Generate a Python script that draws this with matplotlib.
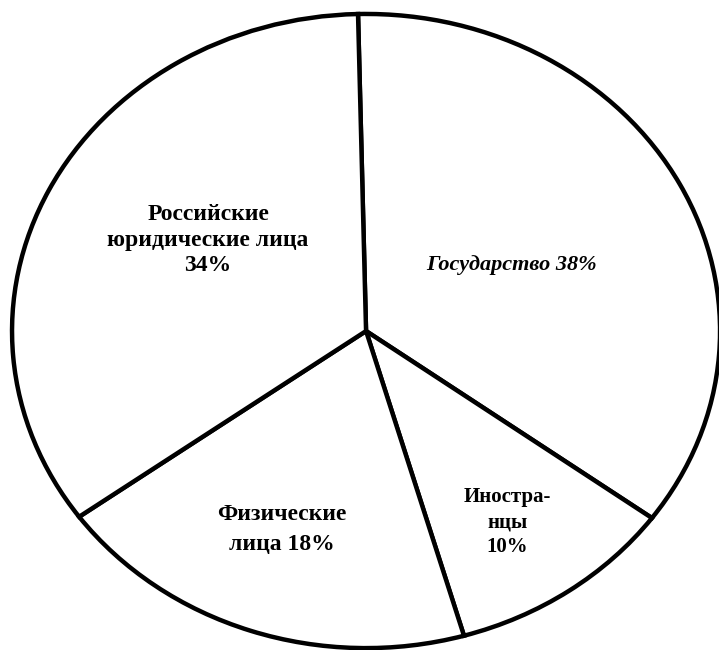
import matplotlib.pyplot as plt

# --- data ---
labels = ['Государство 38%', 'Иностра-\nнцы\n10%', 'Физические\nлица 18%',
          'Российские\nюридические лица\n34%']
# slice sizes as they are drawn (the drawing does not follow the labels exactly)
slice_sizes = [35.4, 10.5, 19.5, 34.6]
start_angle = 91.3

# label placement inside the slices (data coords, pie radius = 1)
label_xy = [(0.412, 0.208), (0.40, -0.603), (-0.239, -0.625), (-0.446, 0.287)]
label_size = [16, 15, 17, 17]
label_style = ['italic', 'normal', 'normal', 'normal']
label_spacing = [1.2, 1.34, 1.58, 1.31]

fig = plt.figure(figsize=(7.19, 6.5), dpi=100)
ax = fig.add_axes([0, 0, 1, 1])

ax.pie(slice_sizes, startangle=start_angle, counterclock=False,
       colors=['white'] * len(slice_sizes),
       wedgeprops=dict(edgecolor='black', linewidth=3.2))

for txt, (x, y), fs, st, ls in zip(labels, label_xy, label_size, label_style, label_spacing):
    ax.text(x, y, txt, ha='center', va='center', fontsize=fs, fontweight='bold',
            fontstyle=st, family='Liberation Serif', linespacing=ls)

# ellipse is a bit wider than tall and cut at the right edge
ax.set_aspect('auto')
ax.set_xlim(-1.034, 0.997)
ax.set_ylim(-1.006, 1.044)
ax.axis('off')

plt.savefig('out.png', dpi=100, facecolor='white')
